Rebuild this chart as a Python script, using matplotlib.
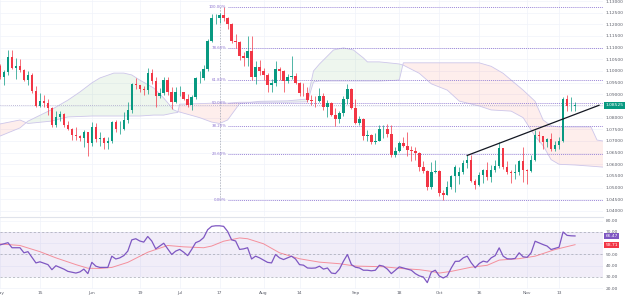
import numpy as np
import matplotlib
matplotlib.use("Agg")
import matplotlib.pyplot as plt
from matplotlib.transforms import blended_transform_factory

# EUR/USD daily, trading-day index 0 = 1 May .. 144 = 17 Nov
opens = [1.1020, 1.0975, 1.0996, 1.1060, 1.1013, 1.1020, 1.1006, 1.0962, 1.0983, 1.0915,
         1.0850, 1.0872, 1.0862, 1.0842, 1.0769, 1.0804, 1.0815, 1.0770, 1.0751, 1.0725,
         1.0722, 1.0711, 1.0737, 1.0690, 1.0762, 1.0709, 1.0712, 1.0693, 1.0698, 1.0781,
         1.0750, 1.0753, 1.0790, 1.0832, 1.0945, 1.0940, 1.0923, 1.0918, 1.0990, 1.0956,
         1.0894, 1.0907, 1.0960, 1.0911, 1.0867, 1.0909, 1.0911, 1.0882, 1.0854, 1.0890,
         1.0968, 1.0972, 1.1008, 1.1128, 1.1226, 1.1228, 1.1238, 1.1228, 1.1200, 1.1130,
         1.1125, 1.1063, 1.1055, 1.1086, 1.0975, 1.1017, 1.0998, 1.0983, 1.0939, 1.0947,
         1.1007, 1.1002, 1.0957, 1.0974, 1.0980, 1.0948, 1.0907, 1.0904, 1.0874, 1.0872,
         1.0871, 1.0894, 1.0845, 1.0862, 1.0810, 1.0795, 1.0818, 1.0880, 1.0923, 1.0843,
         1.0775, 1.0795, 1.0722, 1.0725, 1.0697, 1.0700, 1.0750, 1.0752, 1.0732, 1.0641,
         1.0657, 1.0690, 1.0679, 1.0660, 1.0659, 1.0647, 1.0590, 1.0570, 1.0502, 1.0567,
         1.0573, 1.0476, 1.0468, 1.0503, 1.0550, 1.0552, 1.0565, 1.0605, 1.0620, 1.0529,
         1.0510, 1.0555, 1.0575, 1.0545, 1.0577, 1.0594, 1.0668, 1.0590, 1.0565, 1.0562,
         1.0565, 1.0613, 1.0575, 1.0570, 1.0620, 1.0727, 1.0720, 1.0697, 1.0708, 1.0667,
         1.0684, 1.0700, 1.0880, 1.0848, 1.0852]
highs = [1.1032, 1.1003, 1.1092, 1.1092, 1.1054, 1.1050, 1.1008, 1.0999, 1.0993, 1.0937,
         1.0904, 1.0895, 1.0878, 1.0847, 1.0828, 1.0829, 1.0820, 1.0787, 1.0755, 1.0760,
         1.0725, 1.0746, 1.0740, 1.0780, 1.0779, 1.0737, 1.0718, 1.0718, 1.0786, 1.0790,
         1.0785, 1.0823, 1.0865, 1.0950, 1.0971, 1.0940, 1.0936, 1.1012, 1.1010, 1.0976,
         1.0928, 1.0976, 1.0976, 1.0933, 1.0930, 1.0935, 1.0912, 1.0903, 1.0898, 1.0976,
         1.0999, 1.1027, 1.1136, 1.1244, 1.1245, 1.1250, 1.1276, 1.1230, 1.1206, 1.1158,
         1.1127, 1.1080, 1.1149, 1.1150, 1.1043, 1.1046, 1.1011, 1.0991, 1.0965, 1.1042,
         1.1018, 1.1005, 1.0989, 1.1065, 1.0993, 1.0952, 1.0950, 1.0931, 1.0896, 1.0894,
         1.0927, 1.0905, 1.0875, 1.0865, 1.0841, 1.0827, 1.0894, 1.0945, 1.0928, 1.0882,
         1.0806, 1.0799, 1.0745, 1.0728, 1.0733, 1.0767, 1.0768, 1.0774, 1.0769, 1.0674,
         1.0700, 1.0718, 1.0737, 1.0680, 1.0675, 1.0654, 1.0616, 1.0576, 1.0609, 1.0617,
         1.0575, 1.0490, 1.0530, 1.0554, 1.0598, 1.0590, 1.0617, 1.0640, 1.0639, 1.0539,
         1.0565, 1.0581, 1.0610, 1.0597, 1.0618, 1.0695, 1.0672, 1.0615, 1.0575, 1.0600,
         1.0619, 1.0675, 1.0579, 1.0641, 1.0749, 1.0743, 1.0723, 1.0713, 1.0735, 1.0700,
         1.0715, 1.0887, 1.0895, 1.0888, 1.0865]
lows = [1.0967, 1.0942, 1.0982, 1.1008, 1.0967, 1.0995, 1.0955, 1.0942, 1.0906, 1.0846,
        1.0846, 1.0845, 1.0810, 1.0760, 1.0760, 1.0786, 1.0760, 1.0746, 1.0706, 1.0703,
        1.0701, 1.0673, 1.0635, 1.0680, 1.0697, 1.0677, 1.0667, 1.0665, 1.0693, 1.0737,
        1.0732, 1.0745, 1.0777, 1.0822, 1.0922, 1.0910, 1.0898, 1.0900, 1.0944, 1.0844,
        1.0883, 1.0899, 1.0899, 1.0835, 1.0862, 1.0892, 1.0876, 1.0846, 1.0833, 1.0880,
        1.0950, 1.0962, 1.0998, 1.1124, 1.1203, 1.1206, 1.1213, 1.1181, 1.1121, 1.1100,
        1.1046, 1.1020, 1.1022, 1.0960, 1.0945, 1.0983, 1.0960, 1.0911, 1.0912, 1.0937,
        1.0963, 1.0912, 1.0948, 1.0967, 1.0946, 1.0893, 1.0893, 1.0869, 1.0855, 1.0845,
        1.0865, 1.0833, 1.0802, 1.0808, 1.0766, 1.0777, 1.0806, 1.0857, 1.0835, 1.0772,
        1.0770, 1.0705, 1.0700, 1.0686, 1.0686, 1.0699, 1.0712, 1.0715, 1.0632, 1.0631,
        1.0654, 1.0675, 1.0635, 1.0615, 1.0617, 1.0573, 1.0562, 1.0488, 1.0495, 1.0563,
        1.0464, 1.0448, 1.0467, 1.0493, 1.0483, 1.0516, 1.0558, 1.0584, 1.0525, 1.0495,
        1.0506, 1.0520, 1.0533, 1.0524, 1.0565, 1.0586, 1.0578, 1.0560, 1.0522, 1.0535,
        1.0554, 1.0523, 1.0517, 1.0565, 1.0614, 1.0694, 1.0667, 1.0676, 1.0658, 1.0655,
        1.0664, 1.0695, 1.0828, 1.0830, 1.0828]
closes = [1.0975, 1.0996, 1.1060, 1.1013, 1.1020, 1.1006, 1.0962, 1.0983, 1.0915, 1.0850,
          1.0872, 1.0862, 1.0842, 1.0769, 1.0804, 1.0815, 1.0770, 1.0751, 1.0725, 1.0722,
          1.0711, 1.0737, 1.0690, 1.0762, 1.0709, 1.0712, 1.0693, 1.0698, 1.0781, 1.0750,
          1.0753, 1.0790, 1.0832, 1.0945, 1.0940, 1.0923, 1.0918, 1.0990, 1.0956, 1.0894,
          1.0907, 1.0960, 1.0911, 1.0867, 1.0909, 1.0911, 1.0882, 1.0854, 1.0890, 1.0968,
          1.0972, 1.1008, 1.1128, 1.1226, 1.1228, 1.1238, 1.1228, 1.1200, 1.1130, 1.1125,
          1.1063, 1.1055, 1.1086, 1.0975, 1.1017, 1.0998, 1.0983, 1.0939, 1.0947, 1.1007,
          1.1002, 1.0957, 1.0974, 1.0980, 1.0948, 1.0907, 1.0904, 1.0874, 1.0872, 1.0871,
          1.0894, 1.0845, 1.0862, 1.0810, 1.0795, 1.0818, 1.0880, 1.0923, 1.0843, 1.0775,
          1.0795, 1.0722, 1.0725, 1.0697, 1.0700, 1.0750, 1.0752, 1.0732, 1.0641, 1.0657,
          1.0690, 1.0679, 1.0660, 1.0659, 1.0647, 1.0590, 1.0570, 1.0502, 1.0567, 1.0573,
          1.0476, 1.0468, 1.0503, 1.0550, 1.0588, 1.0565, 1.0605, 1.0620, 1.0529, 1.0510,
          1.0555, 1.0575, 1.0545, 1.0577, 1.0594, 1.0668, 1.0590, 1.0565, 1.0562, 1.0565,
          1.0613, 1.0575, 1.0570, 1.0620, 1.0727, 1.0720, 1.0697, 1.0708, 1.0667, 1.0684,
          1.0700, 1.0880, 1.0848, 1.0852, 1.08525]

# Ichimoku cloud (senkou span A / B)
cloud_day = [0, 5, 7, 12.75, 17, 20, 23, 25, 28.5, 31, 33, 35, 38.5, 41, 43.5, 44.5, 45, 50, 53, 55,
             57, 60, 65, 72, 77, 78.5, 80, 83.5, 86, 88.5, 91, 92, 95, 99, 100, 101, 105, 108, 112,
             115, 120, 123, 126, 128, 131, 134, 136, 138, 140, 144, 148, 149.5, 151]
span_a = [1.0721, 1.0756, 1.0785, 1.0833, 1.0875, 1.0910, 1.0949, 1.0970, 1.0991, 1.0991, 1.0983,
          1.0961, 1.0927, 1.0884, 1.0833, 1.0826, 1.0824, 1.0800, 1.0781, 1.0775, 1.0790, 1.0860,
          1.0870, 1.0872, 1.0880, 1.1000, 1.1030, 1.1090, 1.1099, 1.1090, 1.1056, 1.1039, 1.1039,
          1.1032, 1.1030, 1.1025, 1.0990, 1.0945, 1.0918, 1.0871, 1.0850, 1.0833, 1.0830, 1.0828,
          1.0800, 1.0720, 1.0680, 1.0620, 1.0600, 1.0597, 1.0592, 1.0590, 1.0588]
span_b = [1.0773, 1.0790, 1.0775, 1.0785, 1.0803, 1.0805, 1.0807, 1.0807, 1.0807, 1.0807, 1.0807,
          1.0807, 1.0811, 1.0811, 1.0820, 1.0822, 1.0858, 1.0860, 1.0862, 1.0862, 1.0862, 1.0866,
          1.0866, 1.0866, 1.0868, 1.0953, 1.0957, 1.0957, 1.0957, 1.0957, 1.0957, 1.0957, 1.0957,
          1.0960, 1.0962, 1.1035, 1.1035, 1.1035, 1.1035, 1.1035, 1.1035, 1.1020, 1.0990, 1.0961,
          1.0918, 1.0870, 1.0790, 1.0765, 1.0760, 1.0760, 1.0760, 1.0704, 1.0700]

# RSI(14) and its moving average
rsi_day = [0, 2, 3, 5, 6, 7, 9, 10, 12, 13, 14, 16, 17, 19, 20, 21, 22, 23, 24, 25, 27, 28, 29, 30,
           31, 32, 33, 34, 35, 36, 37, 38, 39, 40, 41, 42, 43, 44, 45, 46, 47, 48, 49, 50, 51, 52,
           53, 54, 55, 56, 57, 58, 59, 60, 61, 62, 63, 64, 65, 66, 67, 68, 69, 70, 71, 72, 73, 74,
           75, 76, 77, 78, 79, 80, 81, 82, 83, 84, 85, 86, 87, 88, 89, 90, 91, 92, 93, 94, 95, 96,
           97, 98, 99, 100, 101, 102, 103, 104, 105, 106, 107, 108, 109, 110, 111, 112, 113, 114,
           115, 116, 117, 118, 119, 120, 121, 122, 123, 124, 125, 126, 127, 128, 129, 130, 131,
           132, 133, 134, 135, 136, 137, 138, 139, 140, 141, 142, 143, 144]
rsi_val = [58.5, 60.5, 56, 56, 51.5, 52.5, 42.5, 43.5, 41, 36.5, 40, 37, 35, 33.5, 34.5, 37, 33, 43,
           39.6, 38.5, 38.5, 48.5, 46, 47, 49, 53, 63, 64, 62, 61, 66, 62, 55, 57.5, 60, 55, 50, 53,
           54.5, 52, 49, 54.5, 60.5, 62, 65, 72, 75, 75.5, 75.5, 75, 70.5, 63, 62, 54.5, 55, 56, 46,
           48.5, 47, 45, 43, 42.5, 50, 47, 45.5, 47, 48.5, 46, 41, 40.5, 38, 37.8, 38, 39.6, 37, 38,
           33.5, 33, 37, 44, 50, 41, 38.7, 38, 36, 36, 35.5, 36, 40.4, 39.6, 37, 33, 36, 39, 38, 37,
           36, 33, 31, 30, 25, 34.3, 36, 30.9, 29.1, 31, 38, 43.9, 44, 47, 48.5, 42.6, 38.2, 42,
           44.1, 43.2, 47, 49, 55.9, 48.5, 46.2, 46, 46.5, 51.5, 47.9, 47.5, 51.5, 61.8, 60.3, 58.8,
           57.5, 54.4, 55.5, 56.5, 70, 67, 66.6, 66.47]
ma_day = [0, 5, 10, 14, 19, 22, 25, 28, 32, 37, 42, 46, 51, 53, 56, 60, 62, 66, 70, 75, 80, 85, 89,
          96, 101, 105, 108, 110, 113, 118, 122, 125, 130, 134, 139, 144]
ma_val = [59.4, 58, 52.5, 47, 41, 37.8, 37.6, 38.5, 43, 52, 58, 56.8, 56, 57.5, 61.8, 64.7, 64, 59.5,
          51.5, 46.2, 43.2, 41.8, 39.7, 39.1, 37.4, 36.5, 35, 33.5, 35, 38.7, 40.4, 45, 46.3, 48.5,
          54.4, 58.71]

# fibonacci retracement, trend line, time axis
fib_ratios = [0.0, 0.236, 0.382, 0.5, 0.618, 0.786, 1.0]
fib_anchor_day = 55
fib_start_day = 57
trend_day = [117, 150]
trend_px = [1.0638, 1.0853]
tick_days = [0, 10, 23, 35, 45, 55, 66, 75, 89, 100, 110, 120, 132, 140]
tick_labels = ["May", "15", "Jun", "19", "Jul", "17", "Aug", "14", "Sep", "18", "Oct", "16", "Nov", "13"]

UP, DOWN = "#089981", "#f23645"
TXT = "#5d606b"
FS = 3.2

o, h, l, c = map(np.array, (opens, highs, lows, closes))
days = np.arange(len(c))
col = np.where(c >= o, UP, DOWN)

fig = plt.figure(figsize=(6.25, 3), dpi=100)
ax = fig.add_axes([0, 0.28, 0.9648, 0.72])
ax2 = fig.add_axes([0, 0.0367, 0.9648, 0.24], sharex=ax)

# --- price pane
sa, sb = np.array(span_a), np.array(span_b)
ax.fill_between(cloud_day, sa, sb, where=sa >= sb, interpolate=True, color="#43a047", alpha=0.09, lw=0)
ax.fill_between(cloud_day, sa, sb, where=sa < sb, interpolate=True, color="#f44336", alpha=0.09, lw=0)
ax.plot(cloud_day, sa, color="#cdc6ea", lw=0.6, zorder=2)
ax.plot(cloud_day, sb, color="#cdc6ea", lw=0.6, zorder=2)

ax.vlines(days, l, h, colors=col, lw=0.5, zorder=3)
ax.bar(days, np.maximum(np.abs(c - o), 0.00012), bottom=np.minimum(o, c), width=0.62,
       color=col, lw=0, zorder=4)

fib_lo, fib_hi = l.min(), h.max()
for r in fib_ratios:
    lvl = fib_lo + r * (fib_hi - fib_lo)
    ax.hlines(lvl, fib_start_day, 152, colors="#9c88d8", linestyles=(0, (1, 1)), lw=0.7, zorder=2)
    ax.text(fib_start_day - 0.3, lvl, f"{r * 100:.2f}%", ha="right", va="center",
            fontsize=2.8, color="#8e75d0", zorder=5)
ax.vlines(fib_anchor_day, fib_lo, fib_hi, colors="#a3a6af", linestyles=(0, (2, 2)), lw=0.5, zorder=2)

ax.plot(trend_day, trend_px, color="#131722", lw=0.9, zorder=5)
ax.axhline(c[-1], color="#aaa4cc", ls=(0, (1, 1.5)), lw=0.6, zorder=2)

ax.set_xlim(0.25, 151)
ax.set_ylim(1.03784, 1.13043)
ax.set_yticks(np.arange(1.04, 1.1301, 0.005))
ax.yaxis.set_major_formatter(plt.FuncFormatter(lambda v, p: f"{v:.5f}"))
ax.yaxis.tick_right()
ax.tick_params(axis="y", length=0, pad=2, labelsize=FS, labelcolor=TXT)
ax.tick_params(axis="x", length=0, labelbottom=False)
ax.set_xticks(tick_days)
ax.grid(color="#f0f3fa", lw=0.5)
ax.set_axisbelow(True)
for s in ax.spines.values():
    s.set_visible(False)

tr = blended_transform_factory(ax.transAxes, ax.transData)
ax.text(1.004, c[-1], f"{c[-1]:.5f}", transform=tr, ha="left", va="center", fontsize=FS,
        color="white", clip_on=False, zorder=10,
        bbox=dict(boxstyle="square,pad=0.25", fc=UP, ec="none"))

# --- RSI pane
ax2.axhspan(30, 70, color="#7e57c2", alpha=0.1, lw=0)
for lv in (70, 50, 30):
    ax2.axhline(lv, color="#9598a1", ls=(0, (3, 3)), lw=0.5, alpha=0.8)
ax2.plot(ma_day, ma_val, color="#f7525f", alpha=0.6, lw=0.7)
ax2.plot(rsi_day, rsi_val, color="#7e57c2", lw=0.9)

ax2.set_ylim(19.33, 83.33)
ax2.set_yticks(range(20, 81, 10))
ax2.yaxis.set_major_formatter(plt.FuncFormatter(lambda v, p: f"{v:.2f}"))
ax2.yaxis.tick_right()
ax2.tick_params(axis="y", length=0, pad=2, labelsize=FS, labelcolor=TXT)
ax2.set_xticks(tick_days)
ax2.set_xticklabels(tick_labels)
ax2.tick_params(axis="x", length=0, pad=1.5, labelsize=FS, labelcolor=TXT)
ax2.grid(color="#f0f3fa", lw=0.5)
ax2.set_axisbelow(True)
for k, s in ax2.spines.items():
    s.set_visible(k == "top")
ax2.spines["top"].set_color("#e0e3eb")
ax2.spines["top"].set_linewidth(0.8)

tr2 = blended_transform_factory(ax2.transAxes, ax2.transData)
for val, fc in ((rsi_val[-1], "#7e57c2"), (ma_val[-1], "#f23645")):
    ax2.text(1.004, val, f"{val:.2f}", transform=tr2, ha="left", va="center", fontsize=FS,
             color="white", clip_on=False, zorder=10,
             bbox=dict(boxstyle="square,pad=0.25", fc=fc, ec="none"))

fig.savefig("out.png", dpi=100, facecolor="white")
